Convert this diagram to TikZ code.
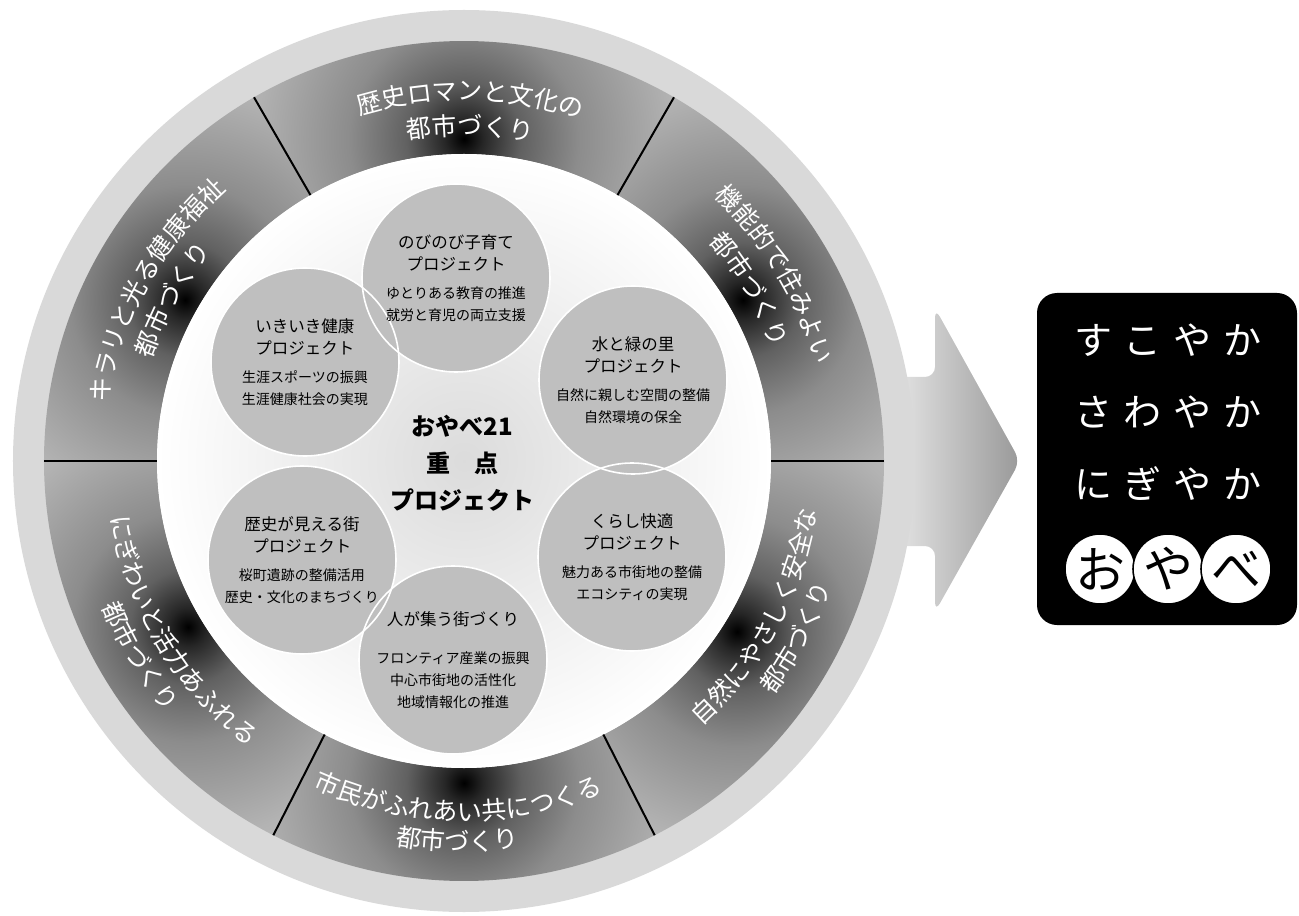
\documentclass[tikz,border=0pt]{standalone}
\usepackage{fontspec}
\newfontfamily\jp{Noto Sans CJK JP}
\usetikzlibrary{decorations.text}

\def\px{0.5pt}
\def\ringfont{\jp\fontsize{12.5}{15}\selectfont\color{white}}
\def\projtitle{\fontsize{8.25}{11}\selectfont}
\def\projsub{\fontsize{7}{9}\selectfont}
\def\gap{\hspace{6pt}}

\pgfdeclareradialshading{bandspot}{\pgfpoint{0bp}{0bp}}{%
  color(0bp)=(black); color(2bp)=(black!85); color(6bp)=(black!62);
  color(12bp)=(black!45); color(22bp)=(black!30); color(35bp)=(black!16);
  color(50bp)=(black!7)}

\begin{document}
\begin{tikzpicture}[x=\px,y=\px,
  outerring/.style={fill=black!15},
  divider/.style={line width=1pt,black},
  disc/.style={circle,fill=black!25,minimum size=188*\px,inner sep=0pt},
  discline/.style={draw=white,line width=0.8pt},
  projtext/.style={align=center,font=\jp\projtitle,text=black},
  outtext/.style={decorate,decoration={text along path,text align=center,
    text={|\ringfont|#1}}},
  boxtext/.style={white,font=\jp\fontsize{19}{19}\selectfont},
  oyabe/.style={circle,fill=white,draw=black,line width=0.8pt,
    minimum size=70*\px,inner sep=0pt,font=\jp\fontsize{25}{25}\selectfont}]

  \useasboundingbox (-464,-454) rectangle (835,461);

% Arrow behind the ring
  \shade[left color=black!8,right color=black!40,rounded corners=5pt]
    (420,84) -- (471,84) -- (471,153) -- (556,0) -- (471,-151)
    -- (471,-85) -- (420,-85) -- cycle;

% Outer light ring
  \fill[outerring] (0,0) circle (451);

% Six band segments, dark spot in the middle of each
  \foreach \a/\b/\m in {0/60/30,60/120/90,120/180/150,180/243/211,
    243/297/270,297/360/328}{
    \begin{scope}
      \clip (\a:307) arc[start angle=\a,end angle=\b,radius=307]
        -- (\b:420) arc[start angle=\b,end angle=\a,radius=420] -- cycle;
      \shade[shading=bandspot] (\m:322) circle (240);
    \end{scope}}

% Inner disc
  \shade[inner color=black!14,outer color=white] (0,0) circle (307);

% Dividers
  \foreach \a in {0,60,120,180,243,297}
    \draw[divider] (\a:307) -- (\a:420);

% Ring texts, upper half (read clockwise)
  \path[outtext=歴史ロマンと文化の] (129:361) arc[start angle=129,end angle=49,radius=361];
  \path[outtext=都市づくり] (129:326) arc[start angle=129,end angle=49,radius=326];
  \path[outtext=機能的で住みよい] (71:364) arc[start angle=71,end angle=-9,radius=364];
  \path[outtext=都市づくり] (71:328) arc[start angle=71,end angle=-9,radius=328];
  \path[outtext=キラリと光る健康福祉] (191:361) arc[start angle=191,end angle=111,radius=361];
  \path[outtext=都市づくり] (191:328) arc[start angle=191,end angle=111,radius=328];
% Ring texts, lower half (read counterclockwise)
  \path[outtext=市民がふれあい共につくる] (229:360) arc[start angle=229,end angle=309,radius=360];
  \path[outtext=都市づくり] (229:390) arc[start angle=229,end angle=309,radius=390];
  \path[outtext=自然にやさしく安全な] (292:356) arc[start angle=292,end angle=372,radius=356];
  \path[outtext=都市づくり] (292:388) arc[start angle=292,end angle=372,radius=388];
  \path[outtext=にぎわいと活力あふれる] (171:358) arc[start angle=171,end angle=251,radius=358];
  \path[outtext=都市づくり] (171:390) arc[start angle=171,end angle=251,radius=390];

% Project circles
  \foreach \n/\p in {nobi/{-8,183},mizu/{169,81},kurashi/{168,-96},
    hito/{-11,-199},rekishi/{-162,-99},ikiiki/{-159,99}}
    \node[disc] (\n) at (\p) {};
  \foreach \n in {nobi,mizu,kurashi,hito,rekishi,ikiiki}
    \draw[discline] (\n.center) circle (94);

  \node[projtext] (nobi-t) at (nobi) {のびのび子育て\\プロジェクト\\[3pt]
    \projsub ゆとりある教育の推進\\\projsub 就労と育児の両立支援};
  \node[projtext] (mizu-t) at (mizu) {水と緑の里\\プロジェクト\\[3pt]
    \projsub 自然に親しむ空間の整備\\\projsub 自然環境の保全};
  \node[projtext] (kurashi-t) at (kurashi) {くらし快適\\プロジェクト\\[3pt]
    \projsub 魅力ある市街地の整備\\\projsub エコシティの実現};
  \node[projtext] (hito-t) at (hito) {人が集う街づくり\\[8pt]
    \projsub フロンティア産業の振興\\\projsub 中心市街地の活性化\\\projsub 地域情報化の推進};
  \node[projtext] (rekishi-t) at (rekishi) {歴史が見える街\\プロジェクト\\[3pt]
    \projsub 桜町遺跡の整備活用\\\projsub 歴史・文化のまちづくり};
  \node[projtext] (ikiiki-t) at (ikiiki) {いきいき健康\\プロジェクト\\[3pt]
    \projsub 生涯スポーツの振興\\\projsub 生涯健康社会の実現};

% Centre title
  \node[projtext,font=\jp\bfseries\fontsize{12}{18.5}\selectfont] (juten) at (-2,-2)
    {おやべ21\\重　点\\プロジェクト};

% Black box on the right
  \fill[black,rounded corners=10pt] (573,168) rectangle (833,-164);
  \node[boxtext] (suko) at (704,121) {す\gap こ\gap や\gap か};
  \node[boxtext] (sawa) at (704,49) {さ\gap わ\gap や\gap か};
  \node[boxtext] (niga) at (704,-23) {に\gap ぎ\gap や\gap か};
  \node[oyabe] (o) at (636,-108) {お};
  \node[oyabe] (ya) at (704,-108) {や};
  \node[oyabe] (be) at (772,-108) {べ};
\end{tikzpicture}
\end{document}
